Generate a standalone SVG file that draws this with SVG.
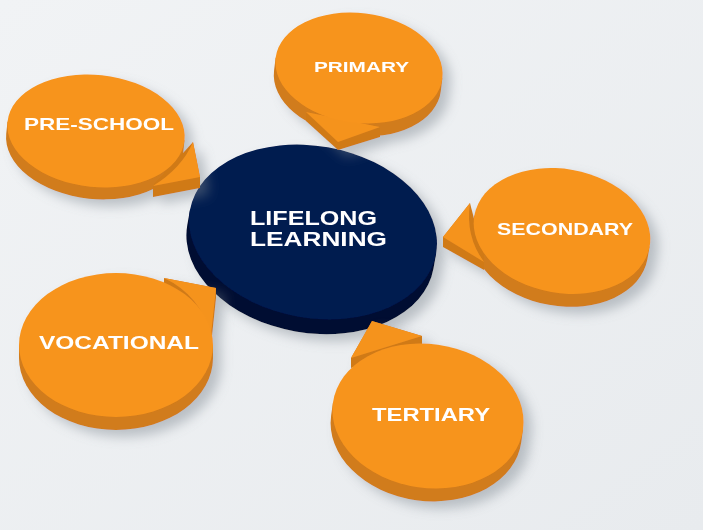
<svg xmlns="http://www.w3.org/2000/svg" width="703" height="530" viewBox="0 0 703 530">
<defs>
<filter id="sh" x="-20%" y="-20%" width="150%" height="160%">
<feDropShadow dx="8" dy="7" stdDeviation="6" flood-color="#7d848d" flood-opacity="0.45"/>
</filter>
<linearGradient id="bg" x1="0" y1="0" x2="1" y2="1">
<stop offset="0" stop-color="#f1f3f5"/>
<stop offset="1" stop-color="#e8ebee"/>
</linearGradient>
<style>
.oside{fill:#d17b1a}
.oface{fill:#f7941e}
.tside{fill:#d07a19}
.tface{fill:#f5931f}
.nside{fill:#000c33}
.nface{fill:#011a50}
.lbl{font-family:"Liberation Sans",Arial,sans-serif;font-weight:bold;fill:#ffffff;lengthAdjust:spacingAndGlyphs}
</style>
</defs>
<rect width="703" height="530" fill="url(#bg)"/>

<g id="connectors"></g>

<g id="lifelong" filter="url(#sh)">
<path class="nside" transform="translate(313,232) rotate(10)" d="M-125,0 L-125,15 A125,86 0 0 0 125,15 L125,0 Z"/>
<ellipse class="nface" transform="translate(313,232) rotate(10)" rx="125" ry="86"/>
<text class="lbl" x="250" y="225" font-size="19.5" textLength="127" lengthAdjust="spacingAndGlyphs">LIFELONG</text>
<text class="lbl" x="250" y="246" font-size="19.5" textLength="137" lengthAdjust="spacingAndGlyphs">LEARNING</text>
</g>

<g id="preschool" filter="url(#sh)">
<path class="oside" transform="translate(96,131) rotate(6)" d="M-89,0 L-89,12 A89,56 0 0 0 89,12 L89,0 Z"/>
<polygon class="tside" points="193,142 200,177 200,188 153,197 153,186"/>
<path class="tface" d="M193,142 L200,177 L153,186 Q182,168 193,142 Z"/>
<ellipse class="oface" transform="translate(96,131) rotate(6)" rx="89" ry="56"/>
<text class="lbl" x="24" y="130" font-size="17" textLength="150" lengthAdjust="spacingAndGlyphs">PRE-SCHOOL</text>
</g>

<g id="primary" filter="url(#sh)">
<path class="oside" transform="translate(359,68) rotate(7)" d="M-84,0 L-84,13 A84,55 0 0 0 84,13 L84,0 Z"/>
<polygon class="tside" points="306,112 306,121 338,150 380,137 380,127"/>
<polygon class="tface" points="306,112 338,142 380,127"/>
<ellipse class="oface" transform="translate(359,68) rotate(7)" rx="84" ry="55"/>
<text class="lbl" x="314" y="72" font-size="14.5" textLength="95" lengthAdjust="spacingAndGlyphs">PRIMARY</text>
</g>

<g id="secondary" filter="url(#sh)">
<path class="oside" transform="translate(562,231) rotate(10)" d="M-89,0 L-89,13 A89,62 0 0 0 89,13 L89,0 Z"/>
<polygon class="tside" points="470,203 443,237 443,247 484,270 484,258"/>
<path class="tface" d="M470,203 L443,237 L484,262 Q465,236 470,203 Z"/>
<ellipse class="oface" transform="translate(562,231) rotate(10)" rx="89" ry="62"/>
<text class="lbl" x="497" y="235" font-size="17" textLength="136" lengthAdjust="spacingAndGlyphs">SECONDARY</text>
</g>

<g id="vocational" filter="url(#sh)">
<path class="oside" transform="translate(116,345)" d="M-97,0 L-97,13 A97,72 0 0 0 97,13 L97,0 Z"/>
<polygon class="tside" points="164,278 216,288 216,298 211,345 164,288"/>
<path class="tface" d="M164,278 L216,288 L211,335 Q200,295 164,278 Z"/>
<ellipse class="oface" transform="translate(116,345)" rx="97" ry="72"/>
<text class="lbl" x="39" y="349" font-size="18.5" textLength="160" lengthAdjust="spacingAndGlyphs">VOCATIONAL</text>
</g>

<g id="tertiary" filter="url(#sh)">
<path class="oside" transform="translate(428,416) rotate(8)" d="M-96,0 L-96,13 A96,72 0 0 0 96,13 L96,0 Z"/>
<polygon class="tside" points="372,321 422,336 422,346 351,368 351,358"/>
<polygon class="tface" points="372,321 422,336 351,358"/>
<ellipse class="oface" transform="translate(428,416) rotate(8)" rx="96" ry="72"/>
<text class="lbl" x="372" y="421" font-size="19" textLength="118" lengthAdjust="spacingAndGlyphs">TERTIARY</text>
</g>
</svg>
